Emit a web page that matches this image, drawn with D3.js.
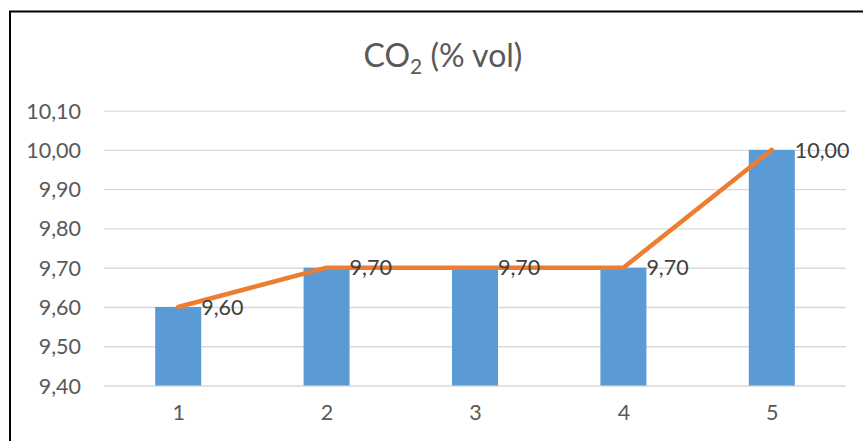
<!DOCTYPE html>
<html>
<head>
<meta charset="utf-8">
<script src="https://cdn.jsdelivr.net/npm/d3@7"></script>
<style>
  html, body { margin: 0; padding: 0; background: #fff; }
  svg { display: block; }
  text { font-family: Lato, "Open Sans", sans-serif; }
</style>
</head>
<body>
<svg id="chart" width="863" height="441"></svg>
<script>
const categories = ["1", "2", "3", "4", "5"];
const barValues = [9.60, 9.70, 9.70, 9.70, 10.00];
const lineValues = [9.60, 9.70, 9.70, 9.70, 10.00];
const yTicks = [9.40, 9.50, 9.60, 9.70, 9.80, 9.90, 10.00, 10.10];
const titleMain = "CO";
const titleSub = "2";
const titleRest = " (% vol)";

const svg = d3.select("#chart");
const W = 863, H = 441;
const margin = { left: 104, right: 17, top: 110.6, bottom: 55.5 };
const fmt = v => d3.format(".2f")(v).replace(".", ",");

// frame
svg.append("rect").attr("x", 10).attr("y", 11.5).attr("width", W + 10).attr("height", H + 10)
  .attr("fill", "#fff").attr("stroke", "#000").attr("stroke-width", 2);

const x = d3.scaleBand().domain(categories).range([margin.left, W - margin.right]).paddingInner(0.69).paddingOuter(0.345);
const xc = d3.scalePoint().domain(categories).range([margin.left, W - margin.right]).padding(0.5);
const y = d3.scaleLinear().domain([9.40, 10.10]).range([H - margin.bottom, margin.top]);

// gridlines
const yAxis = d3.axisLeft(y).tickValues(yTicks).tickSize(-(W - margin.left - margin.right)).tickFormat(fmt).tickPadding(23);
const gy = svg.append("g").attr("transform", `translate(${margin.left},0)`).call(yAxis);
gy.select(".domain").remove();
gy.selectAll(".tick line").attr("stroke", "#d9d9d9").attr("stroke-width", 1.4);
gy.selectAll(".tick text").attr("fill", "#595959").style("font-size", "21.5px").attr("dy", "0.35em");

// x axis labels
const xAxis = d3.axisBottom(xc).tickSize(0).tickPadding(19);
const gx = svg.append("g").attr("transform", `translate(0,${H - margin.bottom})`).call(xAxis);
gx.select(".domain").remove();
gx.selectAll(".tick text").attr("fill", "#595959").style("font-size", "21.5px");

// bars
svg.append("g").selectAll("rect").data(barValues).join("rect")
  .attr("x", (d, i) => xc(categories[i]) - x.bandwidth() / 2)
  .attr("width", x.bandwidth())
  .attr("y", d => y(d))
  .attr("height", d => y(9.40) - y(d))
  .attr("fill", "#5b9bd5");

// line
const line = d3.line().x((d, i) => xc(categories[i])).y(d => y(d));
svg.append("path").datum(lineValues).attr("d", line)
  .attr("fill", "none").attr("stroke", "#ed7d31").attr("stroke-width", 4.5)
  .attr("stroke-linecap", "round").attr("stroke-linejoin", "round");

// data labels
svg.append("g").selectAll("text").data(lineValues).join("text")
  .attr("x", (d, i) => xc(categories[i]) + 23)
  .attr("y", d => y(d))
  .attr("dy", "0.36em")
  .attr("fill", "#404040")
  .style("font-size", "21.5px")
  .text(d => fmt(d));

// title
const t = svg.append("text").attr("x", 443).attr("y", 67).attr("text-anchor", "middle")
  .attr("fill", "#595959").style("font-size", "32px");
t.append("tspan").text(titleMain);
t.append("tspan").attr("dy", 7).style("font-size", "21px").text(titleSub);
t.append("tspan").attr("dy", -7).text(titleRest);
</script>
</body>
</html>
